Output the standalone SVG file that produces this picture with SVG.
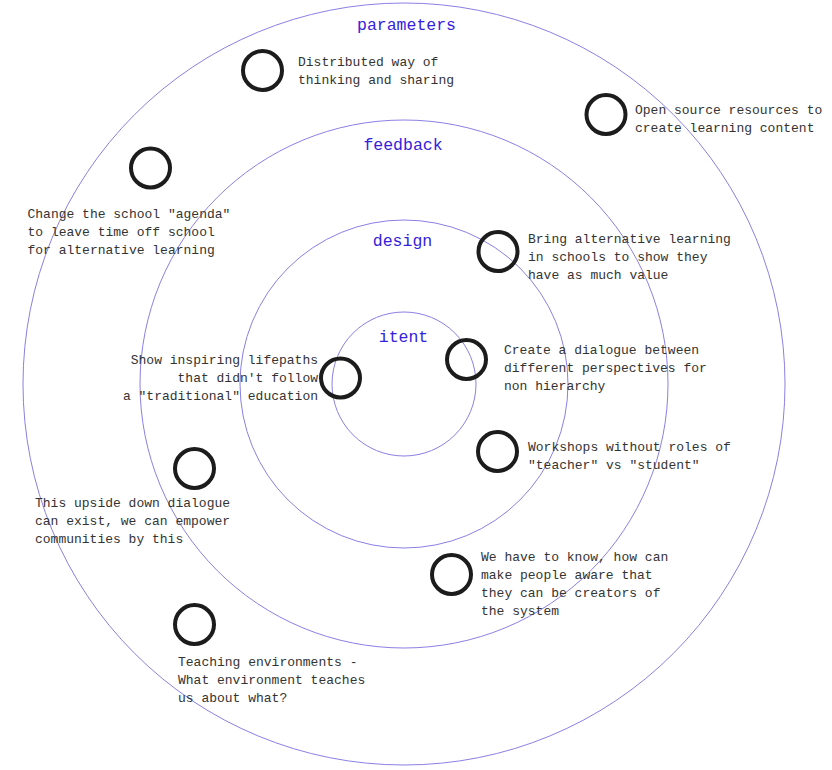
<svg xmlns="http://www.w3.org/2000/svg" width="832" height="770" viewBox="0 0 832 770">
<style>
.ring{fill:none;stroke:#8b80e3;stroke-width:1}
.lbl{font-family:"Liberation Mono","DejaVu Sans Mono",monospace;font-size:16.5px;fill:#3322dd;text-anchor:middle}
.dot{fill:none;stroke:#1c1c1c;stroke-width:4}
.t{font-family:"Liberation Mono","DejaVu Sans Mono",monospace;font-size:13px;fill:#333333}
.r{text-anchor:end}
</style>
<rect width="832" height="770" fill="#ffffff"/>
<g id="rings">
<circle class="ring" cx="404" cy="384" r="381"/>
<circle class="ring" cx="404" cy="384" r="264"/>
<circle class="ring" cx="404" cy="384" r="164"/>
<circle class="ring" cx="404" cy="384" r="72"/>
<text class="lbl" x="406.5" y="30">parameters</text>
<text class="lbl" x="403" y="150">feedback</text>
<text class="lbl" x="402.5" y="246">design</text>
<text class="lbl" x="403.5" y="342">itent</text>
</g>
<g id="connectors"></g>
<g id="n1"><circle class="dot" cx="262.5" cy="70.5" r="19.5"/><text class="t" x="298" y="66">Distributed way of</text><text class="t" x="298" y="84">thinking and sharing</text></g>
<g id="n2"><circle class="dot" cx="606" cy="114.5" r="19.5"/><text class="t" x="635" y="114">Open source resources to</text><text class="t" x="635" y="132">create learning content</text></g>
<g id="n3"><circle class="dot" cx="150.5" cy="168" r="19.5"/><text class="t" x="27.5" y="218">Change the school "agenda"</text><text class="t" x="27.5" y="236">to leave time off school</text><text class="t" x="27.5" y="254">for alternative learning</text></g>
<g id="n4"><circle class="dot" cx="498" cy="251.5" r="19.5"/><text class="t" x="528" y="243">Bring alternative learning</text><text class="t" x="528" y="261">in schools to show they</text><text class="t" x="528" y="279">have as much value</text></g>
<g id="n5"><circle class="dot" cx="340.5" cy="378" r="19.5"/><text class="t r" x="318" y="364">Show inspiring lifepaths</text><text class="t r" x="318" y="382">that didn't follow</text><text class="t r" x="318" y="400">a "traditional" education</text></g>
<g id="n6"><circle class="dot" cx="466.5" cy="359.5" r="19.5"/><text class="t" x="504" y="354">Create a dialogue between</text><text class="t" x="504" y="372">different perspectives for</text><text class="t" x="504" y="390">non hierarchy</text></g>
<g id="n7"><circle class="dot" cx="497.5" cy="451.5" r="19.5"/><text class="t" x="528" y="451">Workshops without roles of</text><text class="t" x="528" y="469">"teacher" vs "student"</text></g>
<g id="n8"><circle class="dot" cx="194.5" cy="468.5" r="19.5"/><text class="t" x="35" y="507">This upside down dialogue</text><text class="t" x="35" y="525">can exist, we can empower</text><text class="t" x="35" y="543">communities by this</text></g>
<g id="n9"><circle class="dot" cx="451.5" cy="574.5" r="19.5"/><text class="t" x="481" y="561">We have to know, how can</text><text class="t" x="481" y="579">make people aware that</text><text class="t" x="481" y="597">they can be creators of</text><text class="t" x="481" y="615">the system</text></g>
<g id="n10"><circle class="dot" cx="194.5" cy="624.5" r="19.5"/><text class="t" x="178" y="666">Teaching environments -</text><text class="t" x="178" y="684">What environment teaches</text><text class="t" x="178" y="702">us about what?</text></g>
</svg>
